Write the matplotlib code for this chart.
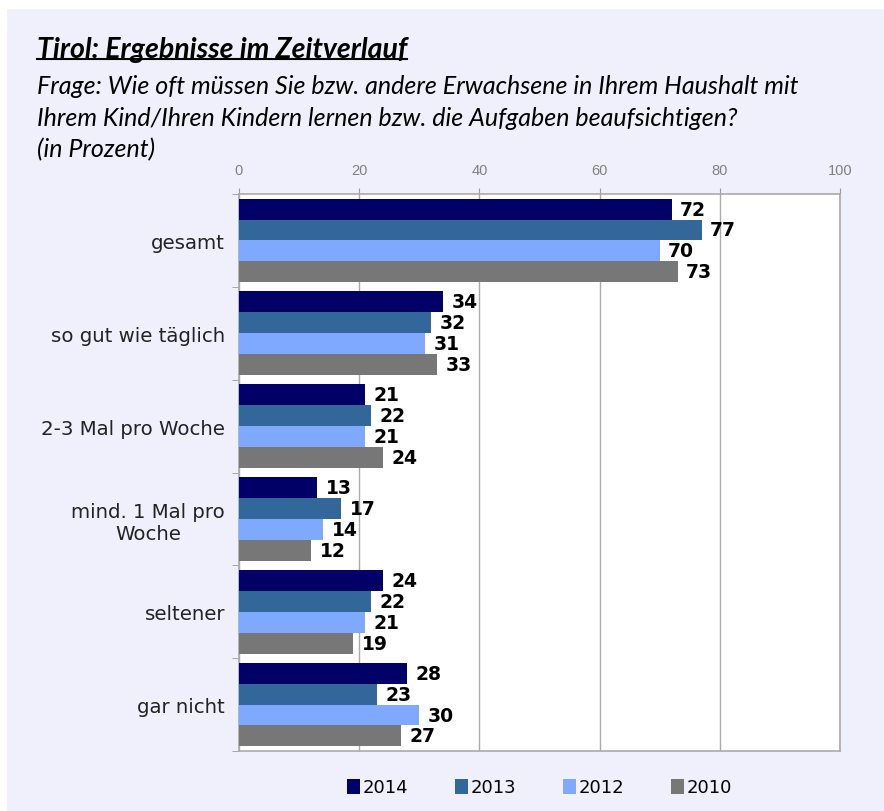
import numpy as np
import matplotlib.pyplot as plt
from matplotlib.patches import Rectangle

# Daten
kategorien = ['gesamt', 'so gut wie täglich', '2-3 Mal pro Woche',
              'mind. 1 Mal pro\nWoche', 'seltener', 'gar nicht']
jahre = ['2014', '2013', '2012', '2010']
werte_2014 = [72, 34, 21, 13, 24, 28]
werte_2013 = [77, 32, 22, 17, 22, 23]
werte_2012 = [70, 31, 21, 14, 21, 30]
werte_2010 = [73, 33, 24, 12, 19, 27]
farben = ['#000066', '#336699', '#7fa8ff', '#777777']
x_ticks = [0, 20, 40, 60, 80, 100]

serien = [werte_2014, werte_2013, werte_2012, werte_2010]

fig = plt.figure(figsize=(8.84, 8.12), dpi=100)
fig.patch.set_facecolor('white')
# lavendelfarbener Hintergrund
fig.patches.append(Rectangle((7 / 884, 0), 1, 1 - 10 / 812, transform=fig.transFigure,
                             facecolor='#f0f0fc', edgecolor='none', zorder=-1))

ax = fig.add_axes([239 / 884, 1 - 752 / 812, 601 / 884, 557 / 812])
ax.set_facecolor('white')

n = len(kategorien)
y = np.arange(n)
h = 0.225
for k, (werte, farbe) in enumerate(zip(serien, farben)):
    pos = y - 1.5 * h + k * h
    ax.barh(pos, werte, height=h, color=farbe, label=jahre[k], zorder=3)
    for p, v in zip(pos, werte):
        ax.annotate(str(v), (v, p), xytext=(6, 0), textcoords='offset points',
                    va='center', ha='left', fontsize=13.5, fontweight='bold',
                    family='DejaVu Sans', color='black', zorder=4)

ax.set_xlim(0, 100)
ax.set_ylim(n - 0.5, -0.5)
ax.xaxis.tick_top()
ax.set_xticks(x_ticks)
ax.set_xticklabels([str(t) for t in x_ticks], family='Liberation Sans',
                   fontsize=10.5, color='#808080')
ax.tick_params(axis='x', length=4, color='#999999', pad=8)
ax.grid(axis='x', color='#aaaaaa', linewidth=1, zorder=0)

ax.set_yticks(y)
ax.set_yticklabels(kategorien, family='DejaVu Sans', fontsize=14.2,
                   color='#222222', ha='right', multialignment='center')
ax.tick_params(axis='y', length=0, pad=10)
ax.set_yticks(np.arange(n + 1) - 0.5, minor=True)
ax.tick_params(axis='y', which='minor', length=5, color='#999999')

for s in ax.spines.values():
    s.set_color('#aaaaaa')
    s.set_linewidth(1.2)

# Titel
fig.text(37 / 884, 1 - 50 / 812, 'Tirol: Ergebnisse im Zeitverlauf',
         family='Lato', style='italic', fontweight='bold', fontsize=20.5,
         va='center', ha='left', color='black')
t = fig.texts[-1]
fig.canvas.draw()
bb = t.get_window_extent()
fig.add_artist(plt.Line2D([bb.x0 / 884, bb.x1 / 884],
                          [(bb.y0 + 3) / 812, (bb.y0 + 3) / 812],
                          color='black', linewidth=1.5, transform=fig.transFigure))

untertitel = ['Frage: Wie oft müssen Sie bzw. andere Erwachsene in Ihrem Haushalt mit',
              'Ihrem Kind/Ihren Kindern lernen bzw. die Aufgaben beaufsichtigen?',
              '(in Prozent)']
for i, zeile in enumerate(untertitel):
    fig.text(37 / 884, 1 - (86 + i * 32) / 812, zeile, family='Lato', style='italic',
             fontsize=18, va='center', ha='left', color='black')

leg = ax.legend(loc='upper center', bbox_to_anchor=(0.5, -0.02), ncol=4,
                frameon=False, prop={'family': 'DejaVu Sans', 'size': 13},
                handlelength=0.7, handleheight=0.9, handletextpad=0.15,
                columnspacing=2.6)

fig.savefig('out.png', dpi=100, facecolor=fig.get_facecolor())
